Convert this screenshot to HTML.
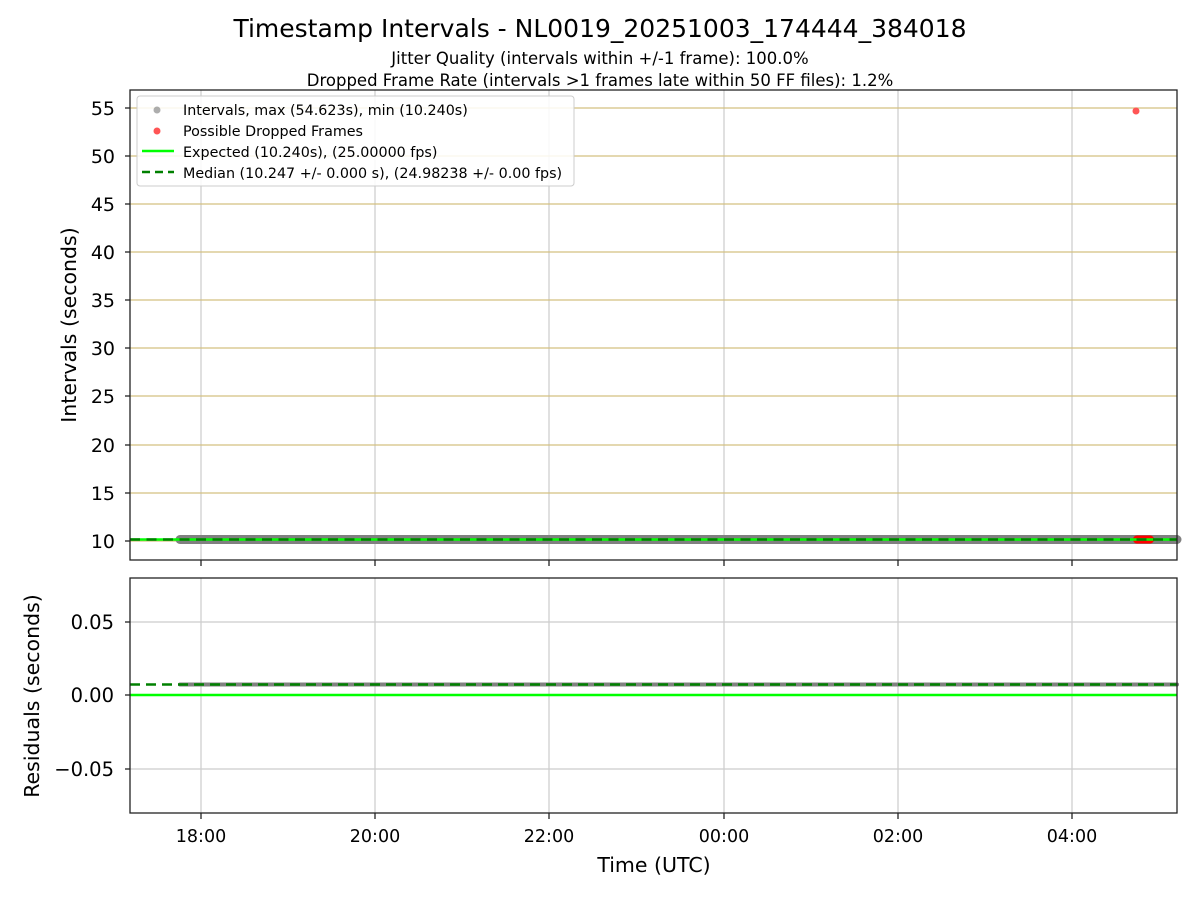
<!DOCTYPE html>
<html><head><style>body{margin:0;background:#fff}svg{display:block}</style></head><body>
<svg width="1200" height="900" xmlns="http://www.w3.org/2000/svg" font-family="DejaVu Sans, Liberation Sans, sans-serif">
<rect width="1200" height="900" fill="#fff"/>
<text x="600" y="37" font-size="25" text-anchor="middle">Timestamp Intervals - NL0019_20251003_174444_384018</text>
<text x="600" y="64" font-size="16.5" text-anchor="middle">Jitter Quality (intervals within +/-1 frame): 100.0%</text>
<text x="600" y="86" font-size="16.5" text-anchor="middle">Dropped Frame Rate (intervals &gt;1 frames late within 50 FF files): 1.2%</text>
<g stroke="#cccccc" stroke-width="1.2">
<line x1="201" y1="90" x2="201" y2="560"/><line x1="375" y1="90" x2="375" y2="560"/><line x1="549" y1="90" x2="549" y2="560"/><line x1="724" y1="90" x2="724" y2="560"/><line x1="898" y1="90" x2="898" y2="560"/><line x1="1072" y1="90" x2="1072" y2="560"/>
<line x1="201" y1="578" x2="201" y2="813"/><line x1="375" y1="578" x2="375" y2="813"/><line x1="549" y1="578" x2="549" y2="813"/><line x1="724" y1="578" x2="724" y2="813"/><line x1="898" y1="578" x2="898" y2="813"/><line x1="1072" y1="578" x2="1072" y2="813"/>
<line x1="130" y1="622" x2="1177" y2="622"/><line x1="130" y1="769" x2="1177" y2="769"/><line x1="130" y1="695" x2="1177" y2="695"/>
</g>
<g stroke="#d4c080" stroke-width="1.2">
<line x1="130" y1="108" x2="1177" y2="108"/><line x1="130" y1="156" x2="1177" y2="156"/><line x1="130" y1="204" x2="1177" y2="204"/><line x1="130" y1="252" x2="1177" y2="252"/><line x1="130" y1="300" x2="1177" y2="300"/><line x1="130" y1="348" x2="1177" y2="348"/><line x1="130" y1="396" x2="1177" y2="396"/><line x1="130" y1="445" x2="1177" y2="445"/><line x1="130" y1="493" x2="1177" y2="493"/><line x1="130" y1="541" x2="1177" y2="541"/>
</g>
<line x1="180" y1="539.5" x2="1177" y2="539.5" stroke="#808080" stroke-width="9" stroke-linecap="round"/>
<line x1="1137" y1="539.5" x2="1150" y2="539.5" stroke="#ff0000" stroke-width="8" stroke-linecap="round"/>
<circle cx="1136" cy="111" r="3.5" fill="#ff5555"/>
<line x1="130" y1="539.5" x2="1177" y2="539.5" stroke="#00ff00" stroke-width="2.5"/>
<line x1="130" y1="539.5" x2="1177" y2="539.5" stroke="#008000" stroke-width="2.5" stroke-dasharray="10,6.5"/>
<rect x="137" y="96" width="437" height="90" rx="3" fill="#fff" fill-opacity="0.85" stroke="#cccccc"/>
<circle cx="157" cy="110" r="3.5" fill="#999" opacity="0.8"/>
<circle cx="157" cy="131" r="3.5" fill="#ff5555"/>
<line x1="142" y1="151" x2="174" y2="151" stroke="#00ff00" stroke-width="2.5"/>
<line x1="142" y1="172" x2="174" y2="172" stroke="#008000" stroke-width="2.5" stroke-dasharray="8,5"/>
<g font-size="14.3">
<text x="183" y="115">Intervals, max (54.623s), min (10.240s)</text>
<text x="183" y="136">Possible Dropped Frames</text>
<text x="183" y="157">Expected (10.240s), (25.00000 fps)</text>
<text x="183" y="178">Median (10.247 +/- 0.000 s), (24.98238 +/- 0.00 fps)</text>
</g>
<rect x="130" y="90" width="1047" height="470" fill="none" stroke="#222" stroke-width="1.3"/>
<g stroke="#222" stroke-width="1.3">
<line x1="125" y1="108" x2="130" y2="108"/><line x1="125" y1="156" x2="130" y2="156"/><line x1="125" y1="204" x2="130" y2="204"/><line x1="125" y1="252" x2="130" y2="252"/><line x1="125" y1="300" x2="130" y2="300"/><line x1="125" y1="348" x2="130" y2="348"/><line x1="125" y1="396" x2="130" y2="396"/><line x1="125" y1="445" x2="130" y2="445"/><line x1="125" y1="493" x2="130" y2="493"/><line x1="125" y1="541" x2="130" y2="541"/>
<line x1="201" y1="560" x2="201" y2="566"/><line x1="375" y1="560" x2="375" y2="566"/><line x1="549" y1="560" x2="549" y2="566"/><line x1="724" y1="560" x2="724" y2="566"/><line x1="898" y1="560" x2="898" y2="566"/><line x1="1072" y1="560" x2="1072" y2="566"/>
</g>
<g font-size="19" text-anchor="end">
<text x="115" y="115">55</text><text x="115" y="163">50</text><text x="115" y="211">45</text><text x="115" y="259">40</text><text x="115" y="307">35</text><text x="115" y="355">30</text><text x="115" y="403">25</text><text x="115" y="452">20</text><text x="115" y="500">15</text><text x="115" y="548">10</text>
</g>
<text transform="translate(76,325) rotate(-90)" font-size="20.5" text-anchor="middle">Intervals (seconds)</text>
<line x1="180" y1="684.5" x2="1177" y2="684.5" stroke="#808080" stroke-width="4" stroke-linecap="round"/>
<line x1="130" y1="684.5" x2="1177" y2="684.5" stroke="#008000" stroke-width="2.5" stroke-dasharray="10,6"/>
<line x1="130" y1="695" x2="1177" y2="695" stroke="#00ff00" stroke-width="2.5"/>
<rect x="130" y="578" width="1047" height="235" fill="none" stroke="#222" stroke-width="1.3"/>
<g stroke="#222" stroke-width="1.3">
<line x1="125" y1="622" x2="130" y2="622"/><line x1="125" y1="695" x2="130" y2="695"/><line x1="125" y1="769" x2="130" y2="769"/>
<line x1="201" y1="813" x2="201" y2="819"/><line x1="375" y1="813" x2="375" y2="819"/><line x1="549" y1="813" x2="549" y2="819"/><line x1="724" y1="813" x2="724" y2="819"/><line x1="898" y1="813" x2="898" y2="819"/><line x1="1072" y1="813" x2="1072" y2="819"/>
</g>
<g font-size="19.5" text-anchor="end">
<text x="114" y="629">0.05</text><text x="114" y="702">0.00</text><text x="114" y="776">−0.05</text>
</g>
<text transform="translate(39,696) rotate(-90)" font-size="20.5" text-anchor="middle">Residuals (seconds)</text>
<g font-size="17.5" text-anchor="middle">
<text x="201" y="842">18:00</text><text x="375" y="842">20:00</text><text x="549" y="842">22:00</text><text x="724" y="842">00:00</text><text x="898" y="842">02:00</text><text x="1072" y="842">04:00</text>
</g>
<text x="654" y="872" font-size="20.5" text-anchor="middle">Time (UTC)</text>
</svg>
</body></html>
